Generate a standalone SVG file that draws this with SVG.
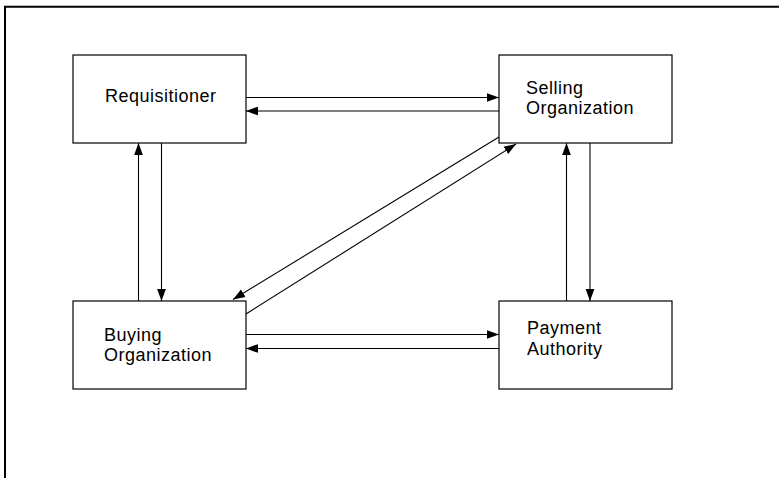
<svg xmlns="http://www.w3.org/2000/svg" width="779" height="478" viewBox="0 0 779 478">
<style>
.box{fill:#fff;stroke:#000;stroke-width:1.2}
.lbl{font-family:"Liberation Sans",Arial,sans-serif;font-size:18px;letter-spacing:0.5px;fill:#000}
.c{stroke:#000;stroke-width:1.1;fill:none;marker-end:url(#ah)}
.frame{stroke:#000;stroke-width:2;fill:none}
</style>
<defs>
<marker id="ah" markerUnits="userSpaceOnUse" markerWidth="12" markerHeight="10" viewBox="0 0 11 8" refX="11" refY="4" orient="auto">
<path d="M0,0 L11,4 L0,8 z" fill="#000"/>
</marker>
</defs>
<rect width="779" height="478" fill="#fff"/>
<path class="frame" d="M5,478 V6.7 H779"/>
<g id="requisitioner">
<rect class="box" x="73" y="55" width="173" height="88"/>
<text class="lbl" x="105" y="102">Requisitioner</text>
</g>
<g id="selling">
<rect class="box" x="499" y="55" width="173" height="88"/>
<text class="lbl" x="526" y="94">Selling</text>
<text class="lbl" x="526" y="114">Organization</text>
</g>
<g id="buying">
<rect class="box" x="73" y="301" width="173" height="88"/>
<text class="lbl" x="104" y="341">Buying</text>
<text class="lbl" x="104" y="361">Organization</text>
</g>
<g id="payment">
<rect class="box" x="499" y="301" width="173" height="88"/>
<text class="lbl" x="527" y="334">Payment</text>
<text class="lbl" x="527" y="355">Authority</text>
</g>
<g id="connectors">
<line class="c" x1="246" y1="97.5" x2="499" y2="97.5"/>
<line class="c" x1="499" y1="111" x2="246" y2="111"/>
<line class="c" x1="246" y1="334.5" x2="499" y2="334.5"/>
<line class="c" x1="499" y1="348.5" x2="246" y2="348.5"/>
<line class="c" x1="138.5" y1="301" x2="138.5" y2="143"/>
<line class="c" x1="161.5" y1="143" x2="161.5" y2="301"/>
<line class="c" x1="566.5" y1="301" x2="566.5" y2="143"/>
<line class="c" x1="590" y1="143" x2="590" y2="301"/>
<line class="c" x1="499" y1="137" x2="233" y2="299.5"/>
<line class="c" x1="246" y1="314" x2="516" y2="144"/>
</g>
</svg>
